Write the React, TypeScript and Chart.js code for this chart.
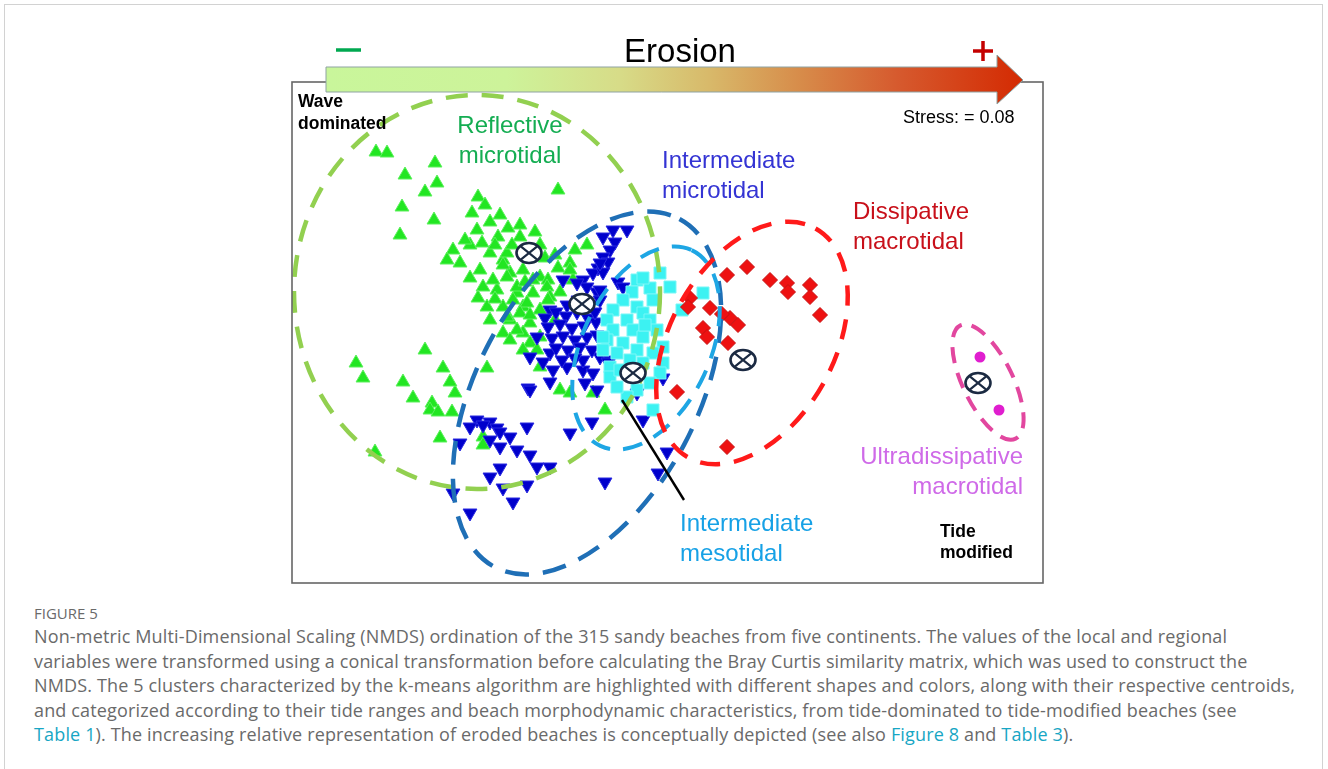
import React, { useEffect, useRef } from "react";
import { Chart, registerables } from "chart.js";

Chart.register(...registerables);

type Pt = [number, number];

// NMDS ordination scores (axis 1, axis 2) of the beaches, grouped by k-means cluster
const reflectiveMicrotidal: Pt[] = [
  [-2.91, 1.8], [-2.8, 1.79], [-2.32, 1.69], [-2.62, 1.57], [-2.3, 1.49], [-2.42, 1.4],
  [-2.65, 1.25], [-2.33, 1.12], [-2.67, 0.97], [-1.09, 1.42], [-1.89, 1.35], [-1.95, 1.19],
  [-1.77, 1.1], [-1.59, 1.04], [-1.9, 1.02], [-1.69, 0.95], [-2.14, 0.82], [-1.97, 0.87],
  [-1.85, 0.89], [-1.77, 0.79], [-1.47, 0.95], [-2.2, 0.72], [-2.07, 0.69], [-1.87, 0.62],
  [-1.64, 0.72], [-1.57, 0.59], [-1.44, 0.62], [-1.27, 0.55], [-0.97, 0.69], [-0.8, 0.87],
  [-1.84, 0.45], [-1.7, 0.42], [-1.5, 0.39], [-1.34, 0.39], [-1.19, 0.52], [-0.94, 0.52],
  [-1.8, 0.25], [-1.64, 0.25], [-1.44, 0.25], [-1.27, 0.22], [-1.77, 0.12], [-1.57, 0.12],
  [-1.37, 0.09], [-1.44, -0.01], [-1.27, -0.05], [-1.64, -0.01], [-2.42, -0.18], [-3.11, -0.31],
  [-1.6, 0.79], [-1.64, 0.67], [-1.34, 0.52], [-1.6, 0.55], [-1.5, 0.45], [-1.2, 0.45],
  [-1.07, 0.4], [-1.54, 0.32], [-1.4, 0.29], [-1.17, 0.35], [-1.6, 0.15], [-1.47, 0.19],
  [-1.5, 0.02], [-1.57, -0.08], [-1.37, -0.11], [-1.27, -0.35], [-1.44, -0.18], [-1.8, -0.36],
  [-2.24, -0.36], [-2.12, -0.61], [-1.07, -0.58], [-0.97, -0.61], [-3.04, -0.46], [-2.64, -0.5],
  [-2.17, -0.5], [-2.54, -0.66], [-2.35, -0.71], [-2.37, -0.78], [-2.29, -0.8], [-2.15, -0.8],
  [-1.3, -0.18], [-2.27, -1.06], [-2.92, -1.2], [-1.84, -1.05], [-1.84, -1.13], [-0.74, -0.61],
  [-0.62, -0.78], [-0.97, 0.62], [-2.02, 0.92], [-1.72, 0.87], [-1.55, 0.87], [-1.22, 0.74],
  [-1.09, 0.64], [-1.97, 0.54], [-1.74, 0.52], [-1.42, 0.5], [-1.89, 0.34], [-1.37, 0.17],
  [-1.12, 0.12], [-1.72, 0.33], [-1.67, 1.17], [-1.82, 1.27], [-1.47, 1.07], [-1.32, 1.0],
  [-1.12, 0.77], [-0.92, 0.82], [-1.27, 0.87], [-1.19, 0.32],
];

const intermediateMicrotidal: Pt[] = [
  [-0.54, 1.02], [-0.4, 1.02], [-0.64, 0.95], [-0.52, 0.9], [-0.57, 0.82], [-0.64, 0.75],
  [-0.59, 0.7], [-0.69, 0.64], [-0.74, 0.59], [-0.64, 0.6], [-1.04, 0.52], [-0.84, 0.52],
  [-0.8, 0.45], [-0.7, 0.4], [-0.49, 0.5], [-0.44, 0.45], [-0.67, 0.32], [-0.67, -0.25],
  [-0.57, -0.28], [-0.84, -0.38], [-0.74, -0.41], [-0.82, -0.51], [-0.3, -0.61], [-0.24, -0.88],
  [-0.04, -0.46], [-0.67, 0.69], [-0.9, 0.49], [-0.67, 0.42], [-1.17, 0.22], [-1.3, -0.05],
  [-1.37, -0.25], [-1.17, -0.21], [-1.14, -0.38], [-1.0, -0.35], [-0.84, -0.28], [-0.7, -0.58],
  [-1.39, -0.56], [-1.17, -0.5], [-1.22, 0.14], [-1.11, 0.2], [-1.01, 0.16], [-0.9, 0.2],
  [-0.79, 0.14], [-1.19, 0.05], [-1.07, 0.08], [-0.95, 0.04], [-0.83, 0.06], [-0.71, 0.1],
  [-1.15, -0.06], [-1.04, -0.04], [-0.92, -0.08], [-0.8, -0.05], [-0.7, -0.03], [-1.11, -0.16],
  [-0.99, -0.18], [-0.87, -0.15], [-0.75, -0.18], [-0.92, -0.26], [-1.05, -0.28], [-0.77, 0.27],
  [-0.89, 0.32], [-1.0, 0.27], [-0.72, 0.2], [-1.37, -0.58], [-1.24, -0.3], [-0.59, -0.3],
  [-1.9, -0.88], [-1.97, -0.95], [-1.77, -0.9], [-1.84, -0.93], [-1.7, -0.96], [-2.07, -1.11],
  [-1.67, -1.0], [-1.57, -1.05], [-1.77, -1.08], [-1.67, -1.15], [-1.5, -1.18], [-1.4, -0.95],
  [-1.37, -1.23], [-1.3, -1.35], [-1.17, -1.35], [-1.67, -1.36], [-1.77, -1.45], [-1.64, -1.56],
  [-1.4, -1.53], [-1.54, -1.7], [-2.14, -1.61], [-1.97, -1.81], [-0.97, -1.01], [-0.75, -0.9],
  [-0.62, -1.5], [-0.09, -1.41], [0.0, -1.2],
];

const intermediateMesotidal: Pt[] = [
  [-0.07, 0.59], [0.03, 0.45], [-0.3, 0.52], [-0.35, 0.4], [-0.17, 0.44], [-0.14, 0.32],
  [-0.44, 0.32], [-0.54, 0.22], [-0.3, 0.25], [-0.24, 0.19], [-0.6, 0.12], [-0.4, 0.12],
  [-0.17, 0.12], [-0.54, 0.02], [-0.34, 0.02], [-0.1, 0.02], [-0.6, -0.08], [-0.44, -0.11],
  [-0.24, -0.05], [-0.04, -0.15], [-0.64, -0.18], [-0.5, -0.21], [-0.3, -0.18], [-0.14, -0.21],
  [-0.04, -0.31], [-0.57, -0.35], [-0.24, -0.31], [-0.07, -0.41], [-0.57, -0.45], [-0.3, -0.58],
  [-0.4, -0.65], [-0.17, -0.51], [0.36, 0.39], [0.15, 0.22], [-0.24, 0.54], [-0.64, -0.05],
  [-0.14, -0.78], [-0.5, -0.55], [-0.22, 0.07], [-0.37, -0.28], [-0.47, -0.38],
];

const dissipativeMacrotidal: Pt[] = [
  [0.8, 0.65], [0.6, 0.57], [1.03, 0.52], [1.2, 0.49], [1.21, 0.4], [1.43, 0.47],
  [1.43, 0.35], [1.53, 0.17], [0.23, 0.34], [0.21, 0.25], [0.43, 0.24], [0.63, 0.14],
  [0.71, 0.07], [0.36, 0.04], [0.4, -0.05], [0.61, -0.11], [0.1, -0.6], [0.6, -1.15],
  [0.55, 0.18],
];

const ultradissipativeMacrotidal: Pt[] = [
  [3.13, -0.25], [3.32, -0.78],
];

// Cluster centroids, same order as the clusters above
const centroids: Pt[] = [
  [-1.38, 0.79], [-0.85, 0.28], [-0.34, -0.41], [0.76, -0.28], [3.11, -0.51],
];

// Dispersion ellipses: centre, semi-axes (NMDS units) and tilt in degrees
const ellipseCentres: Pt[] = [[-1.9, 0.4], [-0.8, -0.61], [-0.21, -0.16], [0.85, -0.11], [3.21, -0.5]];
const ellipseSemiAxes: Pt[] = [[1.83, 1.97], [1.97, 1.1], [1.08, 0.64], [1.31, 0.82], [0.63, 0.25]];
const ellipseTilts: number[] = [0, -62, -65, -61, 64];

const clusterNames: string[][] = [
  ["Reflective", "microtidal"],
  ["Intermediate", "microtidal"],
  ["Intermediate", "mesotidal"],
  ["Dissipative", "macrotidal"],
  ["Ultradissipative", "macrotidal"],
];
const labelAnchors: Pt[] = [[-1.57, 2.08], [-0.05, 1.73], [0.13, -1.9], [1.86, 1.22], [3.56, -1.23]];
const labelAlign: CanvasTextAlign[] = ["center", "left", "left", "left", "right"];

// Leader line from the mesotidal centroid area to its label
const leaderLine: Pt[] = [[-0.45, -0.68], [0.17, -1.68]];

const stressValue = 0.08;

const ellipseColors = ["#92d050", "#1f6fb6", "#1ea6e4", "#ff1a1a", "#e2479f"];
const ellipseDashes = [[22, 14], [24, 14], [20, 13], [20, 14], [16, 10]];
const ellipseWidths = [4.5, 4.5, 4, 4.5, 4];
const labelColors = ["#14ad52", "#3434d4", "#16a1e6", "#c8101a", "#cf6ae8"];

const SANS = "'Liberation Sans', Arial, sans-serif";

function centroidMarker(): HTMLCanvasElement {
  const c = document.createElement("canvas");
  c.width = 32;
  c.height = 26;
  const g = c.getContext("2d")!;
  const cx = 16, cy = 13, rx = 12.5, ry = 10;
  g.fillStyle = "#ffffff";
  g.strokeStyle = "#1b2a42";
  g.lineWidth = 2.6;
  g.beginPath();
  g.ellipse(cx, cy, rx, ry, 0, 0, Math.PI * 2);
  g.fill();
  g.stroke();
  const dx = rx * Math.SQRT1_2, dy = ry * Math.SQRT1_2;
  g.lineWidth = 2.2;
  g.beginPath();
  g.moveTo(cx - dx, cy - dy);
  g.lineTo(cx + dx, cy + dy);
  g.moveTo(cx + dx, cy - dy);
  g.lineTo(cx - dx, cy + dy);
  g.stroke();
  return c;
}

const toXY = (pts: Pt[]) => pts.map(([x, y]) => ({ x, y }));

const overlayPlugin = {
  id: "nmdsOverlay",
  afterDatasetDraw(chart: any, args: any) {
    // ellipses go above the cluster points but below the centroids
    if (args.index !== 4) return;
    const { ctx, chartArea } = chart;
    const xs = chart.scales.x, ys = chart.scales.y;
    const unit = xs.getPixelForValue(1) - xs.getPixelForValue(0);
    ctx.save();
    ctx.beginPath();
    ctx.rect(chartArea.left, chartArea.top, chartArea.right - chartArea.left, chartArea.bottom - chartArea.top);
    ctx.clip();
    ellipseCentres.forEach(([cx, cy], i) => {
      const [a, b] = ellipseSemiAxes[i];
      ctx.beginPath();
      ctx.setLineDash(ellipseDashes[i]);
      ctx.lineWidth = ellipseWidths[i];
      ctx.strokeStyle = ellipseColors[i];
      ctx.ellipse(xs.getPixelForValue(cx), ys.getPixelForValue(cy), a * unit, b * unit,
        (ellipseTilts[i] * Math.PI) / 180, 0, Math.PI * 2);
      ctx.stroke();
    });
    ctx.setLineDash([]);
    ctx.strokeStyle = "#000000";
    ctx.lineWidth = 2.4;
    ctx.beginPath();
    ctx.moveTo(xs.getPixelForValue(leaderLine[0][0]), ys.getPixelForValue(leaderLine[0][1]));
    ctx.lineTo(xs.getPixelForValue(leaderLine[1][0]), ys.getPixelForValue(leaderLine[1][1]));
    ctx.stroke();
    ctx.restore();
  },
  afterDraw(chart: any) {
    const { ctx, chartArea } = chart;
    const xs = chart.scales.x, ys = chart.scales.y;
    const L = chartArea.left, T = chartArea.top, R = chartArea.right, B = chartArea.bottom;
    ctx.save();

    // plot frame
    ctx.strokeStyle = "#666666";
    ctx.lineWidth = 1.6;
    ctx.strokeRect(L, T, R - L, B - T);

    // cluster labels
    ctx.textBaseline = "middle";
    ctx.font = `24px ${SANS}`;
    clusterNames.forEach((lines, i) => {
      const [ax, ay] = labelAnchors[i];
      ctx.fillStyle = labelColors[i];
      ctx.textAlign = labelAlign[i];
      lines.forEach((t, k) => {
        ctx.fillText(t, xs.getPixelForValue(ax), ys.getPixelForValue(ay) + 2 + k * 30.5);
      });
    });

    // corner notes
    ctx.fillStyle = "#000000";
    ctx.textAlign = "left";
    ctx.font = `bold 17.5px ${SANS}`;
    ctx.fillText("Wave", L + 6, T + 20.5);
    ctx.fillText("dominated", L + 6, T + 42.5);
    ctx.fillText("Tide", L + 648, B - 50.5);
    ctx.fillText("modified", L + 648, B - 29.5);
    ctx.font = `18px ${SANS}`;
    ctx.fillText(`Stress: = ${stressValue.toFixed(2)}`, L + 611, T + 36);

    // erosion gradient arrow across the top
    const x0 = L + 34, xh = L + 705, xt = L + 731;
    const yTop = T - 15, yBot = T + 10, hTop = T - 27, hBot = T + 22, yMid = T - 2;
    const grad = ctx.createLinearGradient(x0, 0, xt, 0);
    grad.addColorStop(0, "#c9f69b");
    grad.addColorStop(0.26, "#cdf39a");
    grad.addColorStop(0.42, "#d7dc88");
    grad.addColorStop(0.55, "#d8b96a");
    grad.addColorStop(0.68, "#d78c4a");
    grad.addColorStop(0.82, "#d65a2e");
    grad.addColorStop(1, "#d42a02");
    ctx.beginPath();
    ctx.moveTo(x0, yTop);
    ctx.lineTo(xh, yTop);
    ctx.lineTo(xh, hTop);
    ctx.lineTo(xt, yMid);
    ctx.lineTo(xh, hBot);
    ctx.lineTo(xh, yBot);
    ctx.lineTo(x0, yBot);
    ctx.closePath();
    ctx.fillStyle = grad;
    ctx.fill();
    ctx.strokeStyle = "#8fa3a3";
    ctx.lineWidth = 1;
    ctx.stroke();

    ctx.fillStyle = "#000000";
    ctx.textAlign = "center";
    ctx.font = `33px ${SANS}`;
    ctx.fillText("Erosion", L + 388, T - 29);

    ctx.strokeStyle = "#00a850";
    ctx.lineWidth = 3.5;
    ctx.beginPath();
    ctx.moveTo(L + 44, T - 32);
    ctx.lineTo(L + 69, T - 32);
    ctx.stroke();

    ctx.strokeStyle = "#c40000";
    ctx.lineWidth = 3.5;
    ctx.beginPath();
    ctx.moveTo(L + 681, T - 31);
    ctx.lineTo(L + 701, T - 31);
    ctx.moveTo(L + 691, T - 41);
    ctx.lineTo(L + 691, T - 21);
    ctx.stroke();

    ctx.restore();
  },
};

export default function App() {
  const canvasRef = useRef<HTMLCanvasElement>(null);

  useEffect(() => {
    const marker = centroidMarker();
    const chart = new Chart(canvasRef.current!, {
      type: "scatter",
      data: {
        datasets: [
          {
            label: "Reflective microtidal",
            data: toXY(reflectiveMicrotidal),
            pointStyle: "triangle",
            pointRadius: 8,
            backgroundColor: "#22e622",
            borderColor: "#5cf05c",
            pointBorderWidth: 1,
            order: 6,
          },
          {
            label: "Intermediate microtidal",
            data: toXY(intermediateMicrotidal),
            pointStyle: "triangle",
            rotation: 180,
            pointRadius: 8,
            backgroundColor: "#0000cc",
            borderColor: "#2a2ae0",
            pointBorderWidth: 1,
            order: 5,
          },
          {
            label: "Intermediate mesotidal",
            data: toXY(intermediateMesotidal),
            pointStyle: "rect",
            pointRadius: 8.5,
            backgroundColor: "#3cf2f2",
            borderColor: "#7af7f7",
            pointBorderWidth: 1,
            order: 4,
          },
          {
            label: "Dissipative macrotidal",
            data: toXY(dissipativeMacrotidal),
            pointStyle: "rectRot",
            pointRadius: 7.5,
            backgroundColor: "#ee1111",
            borderColor: "#c81010",
            pointBorderWidth: 1,
            order: 3,
          },
          {
            label: "Ultradissipative macrotidal",
            data: toXY(ultradissipativeMacrotidal),
            pointStyle: "circle",
            pointRadius: 5.5,
            backgroundColor: "#e01ecf",
            borderColor: "#e01ecf",
            pointBorderWidth: 0,
            order: 2,
          },
          {
            label: "Centroids",
            data: toXY(centroids),
            pointStyle: marker,
            pointRadius: 13,
            order: 1,
          },
        ],
      },
      options: {
        animation: false,
        responsive: false,
        devicePixelRatio: 1,
        events: [],
        layout: { padding: { left: 292, top: 82, right: 285, bottom: 17 } },
        plugins: { legend: { display: false }, tooltip: { enabled: false } },
        scales: {
          x: { type: "linear", min: -3.75, max: 3.76, display: false },
          y: { type: "linear", min: -2.51, max: 2.5, display: false },
        },
      },
      plugins: [overlayPlugin],
    } as any);
    return () => chart.destroy();
  }, []);

  const captionFont = "'Open Sans', 'Noto Sans', sans-serif";
  const link = { color: "#17a6c4" };

  return (
    <div style={{ position: "fixed", left: 0, top: 0, width: 1328, height: 769, background: "#ffffff", overflow: "hidden" }}>
      <div style={{ position: "absolute", left: 4, top: 4, width: 1317, height: 820, border: "1px solid #d2d2d2" }} />
      <canvas ref={canvasRef} width={1328} height={600} style={{ position: "absolute", left: 0, top: 0, width: 1328, height: 600 }} />
      <div style={{ position: "absolute", left: 34, top: 603, lineHeight: "20px", fontFamily: captionFont, fontSize: 15, color: "#6a6a6a", whiteSpace: "nowrap" }}>
        FIGURE 5
      </div>
      <div style={{ position: "absolute", left: 34, top: 624, lineHeight: "24.5px", fontFamily: captionFont, fontSize: 18, letterSpacing: "0.15px", color: "#6a6a6a", whiteSpace: "nowrap" }}>
        Non-metric Multi-Dimensional Scaling (NMDS) ordination of the 315 sandy beaches from five continents. The values of the local and regional
        <br />
        variables were transformed using a conical transformation before calculating the Bray Curtis similarity matrix, which was used to construct the
        <br />
        NMDS. The 5 clusters characterized by the k-means algorithm are highlighted with different shapes and colors, along with their respective centroids,
        <br />
        and categorized according to their tide ranges and beach morphodynamic characteristics, from tide-dominated to tide-modified beaches (see
        <br />
        <span style={link}>Table 1</span>). The increasing relative representation of eroded beaches is conceptually depicted (see also{" "}
        <span style={link}>Figure 8</span> and <span style={link}>Table 3</span>).
      </div>
    </div>
  );
}
